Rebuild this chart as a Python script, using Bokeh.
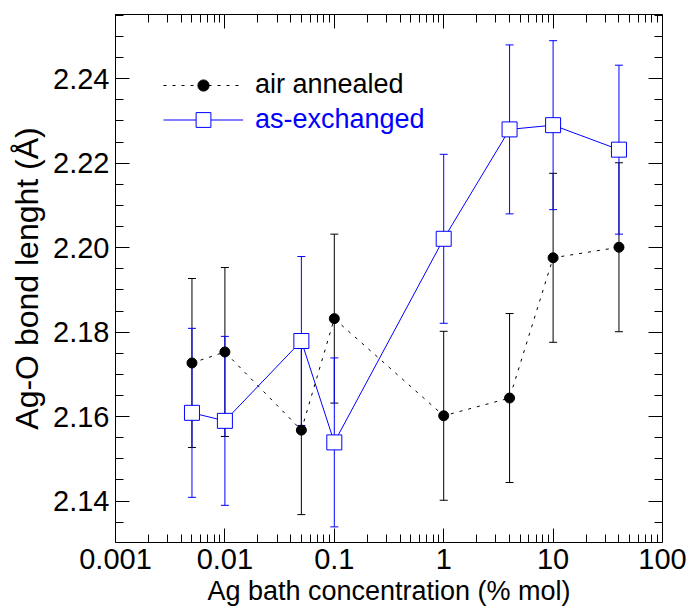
from bokeh.plotting import figure
from bokeh.models import (Range1d, FixedTicker, LogAxis, LinearAxis, Whisker, TeeHead,
                          ColumnDataSource, Legend, LegendItem)
from bokeh.embed import file_html
from bokeh.resources import INLINE

# ---------------- data ----------------
conc = [0.005, 0.01, 0.05, 0.1, 1, 4, 10, 40]
air_annealed = [2.1727, 2.1753, 2.1568, 2.1832, 2.1602, 2.1644, 2.1976, 2.2001]
air_err = [0.020, 0.020, 0.020, 0.020, 0.020, 0.020, 0.020, 0.020]
as_exchanged = [2.1609, 2.1590, 2.1779, 2.1539, 2.2021, 2.2280, 2.2290, 2.2232]
exch_err = [0.020, 0.020, 0.020, 0.020, 0.020, 0.020, 0.020, 0.020]

x_ticks = [0.001, 0.01, 0.1, 1, 10, 100]
x_labels = ["0.001", "0.01", "0.1", "1", "10", "100"]
y_ticks = [2.14, 2.16, 2.18, 2.20, 2.22, 2.24]
y_labels = ["2.14", "2.16", "2.18", "2.20", "2.22", "2.24"]

x_minor = [m * 10.0 ** e for e in range(-3, 2) for m in range(2, 10)]
y_minor = [round(2.135 + 0.005 * i, 3) for i in range(25)]

FONT = "Liberation Sans"
BLUE = "#0000ff"

p = figure(width=688, height=608, x_axis_type="log",
           x_range=Range1d(0.001, 100), y_range=Range1d(2.1302, 2.2552),
           output_backend="svg", toolbar_location=None,
           min_border_left=115, min_border_right=26, min_border_top=14, min_border_bottom=65)
p.grid.visible = False
p.outline_line_color = None
p.background_fill_color = "white"
p.border_fill_color = "white"


def style_axis(ax, ticker, show_labels):
    ax.ticker = ticker
    ax.axis_line_color = "black"
    ax.axis_line_width = 1
    ax.major_tick_line_color = "black"
    ax.minor_tick_line_color = "black"
    ax.major_tick_in = 14
    ax.major_tick_out = 0
    ax.minor_tick_in = 8
    ax.minor_tick_out = 0
    if not show_labels:
        ax.major_label_text_font_size = "0px"
        ax.major_label_standoff = 0


xax = p.xaxis[0]
style_axis(xax, FixedTicker(ticks=x_ticks, minor_ticks=x_minor), True)
xax.major_label_overrides = {t: l for t, l in zip(x_ticks, x_labels)}
xax.major_label_text_font = FONT
xax.major_label_text_font_size = "29px"
xax.major_label_text_color = "black"
xax.major_label_standoff = 6
xax.axis_label = "Ag bath concentration (% mol)"
xax.axis_label_text_font = FONT
xax.axis_label_text_font_size = "27px"
xax.axis_label_text_font_style = "normal"
xax.axis_label_text_color = "black"
xax.axis_label_standoff = 4

yax = p.yaxis[0]
style_axis(yax, FixedTicker(ticks=y_ticks, minor_ticks=y_minor), True)
yax.major_label_overrides = {t: l for t, l in zip(y_ticks, y_labels)}
yax.major_label_text_font = FONT
yax.major_label_text_font_size = "29px"
yax.major_label_text_color = "black"
yax.major_label_standoff = 6
yax.axis_label = "Ag-O bond lenght (Å)"
yax.axis_label_text_font = FONT
yax.axis_label_text_font_size = "32px"
yax.axis_label_text_font_style = "normal"
yax.axis_label_text_color = "black"
yax.axis_label_standoff = 5

top = LogAxis()
style_axis(top, FixedTicker(ticks=x_ticks, minor_ticks=x_minor), False)
top.major_label_overrides = {t: "" for t in x_ticks}
p.add_layout(top, "above")

right = LinearAxis()
style_axis(right, FixedTicker(ticks=y_ticks, minor_ticks=y_minor), False)
right.major_label_overrides = {t: "" for t in y_ticks}
p.add_layout(right, "right")

# ---------------- error bars ----------------
src_air = ColumnDataSource(dict(
    x=conc, y=air_annealed,
    lower=[v - e for v, e in zip(air_annealed, air_err)],
    upper=[v + e for v, e in zip(air_annealed, air_err)]))
src_exch = ColumnDataSource(dict(
    x=conc, y=as_exchanged,
    lower=[v - e for v, e in zip(as_exchanged, exch_err)],
    upper=[v + e for v, e in zip(as_exchanged, exch_err)]))

for src, col in ((src_air, "black"), (src_exch, BLUE)):
    w = Whisker(source=src, base="x", lower="lower", upper="upper", dimension="height",
                line_color=col, line_width=1, level="underlay",
                upper_head=TeeHead(size=8, line_color=col, line_width=1),
                lower_head=TeeHead(size=8, line_color=col, line_width=1))
    p.add_layout(w)

# ---------------- series ----------------
r_air_line = p.line("x", "y", source=src_air, line_color="black", line_width=1, line_dash="3 6")
r_ex_line = p.line("x", "y", source=src_exch, line_color=BLUE, line_width=1)
r_air_dot = p.scatter("x", "y", source=src_air, marker="circle", size=10,
                      fill_color="black", line_color="black")
r_ex_sq = p.scatter("x", "y", source=src_exch, marker="square", size=15,
                    fill_color="white", line_color=BLUE, line_width=1)

leg1 = Legend(items=[LegendItem(label="air annealed", renderers=[r_air_line, r_air_dot])],
              location=(48, 442), glyph_width=80, glyph_height=28, label_height=28,
              label_standoff=12, label_text_font=FONT, label_text_font_size="27px",
              label_text_color="black", padding=0, margin=0, spacing=0,
              border_line_color=None, background_fill_alpha=0)
leg2 = Legend(items=[LegendItem(label="as-exchanged", renderers=[r_ex_line, r_ex_sq])],
              location=(48, 404), glyph_width=80, glyph_height=37, label_height=37,
              label_standoff=12, label_text_font=FONT, label_text_font_size="27px",
              label_text_color=BLUE, padding=0, margin=0, spacing=0,
              border_line_color=None, background_fill_alpha=0)
p.add_layout(leg1)
p.add_layout(leg2)

open("out.html", "w").write(file_html(p, INLINE))
